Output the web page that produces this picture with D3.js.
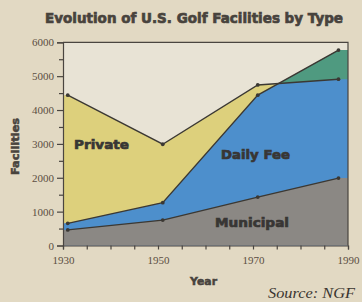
<!DOCTYPE html>
<html lang="en">
<head>
  <meta charset="UTF-8">
  <title>Evolution of U.S. Golf Facilities by Type</title>
  <script src="https://d3js.org/d3.v7.min.js"></script>
  <style>
    html, body { margin: 0; padding: 0; background: #e2d9c3; }
    svg { display: block; }
  </style>
</head>
<body>
  <svg width="362" height="302"></svg>
  <script>
    // data (cumulative edges of the bands)
    const years = [1931, 1951, 1971, 1988];
    const municipal = [460, 750, 1430, 1990];
    const dailyFeeTop = [655, 1265, 4440, 5770];
    const privateTop = [4440, 2990, 4740, 4910];

    const yMajor = [0, 1000, 2000, 3000, 4000, 5000, 6000];
    const yMinor = [500, 1500, 2500, 3500, 4500, 5500];
    const xMajor = [1930, 1950, 1970, 1990];
    const xMinor = [1935, 1940, 1945, 1955, 1960, 1965, 1975, 1980, 1985];

    const svg = d3.select("svg");
    const x = d3.scaleLinear().domain([1930, 1990]).range([63, 348]);
    const y = d3.scaleLinear().domain([0, 6000]).range([245.5, 42.3]);

    const ink = "#3b3833";
    const labelInk = "#5b4e42";

    // fills run flat from the end points out to the plot edges
    function extend(vals) {
      const pts = years.map((yr, i) => ({ year: yr, v: vals[i] }));
      return [{ year: 1930, v: vals[0] }, ...pts, { year: 1990, v: vals[vals.length - 1] }];
    }
    const rows = extend(municipal).map((d, i) => ({
      year: d.year,
      muni: d.v,
      daily: extend(dailyFeeTop)[i].v,
      priv: extend(privateTop)[i].v
    }));

    svg.append("rect")
      .attr("x", x(1930)).attr("y", y(6000))
      .attr("width", x(1990) - x(1930)).attr("height", y(0) - y(6000))
      .attr("fill", "#e8e3d5");

    svg.append("defs").append("clipPath").attr("id", "abovePrivate")
      .append("path")
      .attr("d", d3.area().x(d => x(d.year)).y0(y(6000)).y1(d => y(d.priv))(rows));

    svg.append("path")
      .attr("fill", "#ddd07c")
      .attr("d", d3.area().x(d => x(d.year)).y0(d => y(d.daily)).y1(d => y(d.priv))(rows));

    svg.append("path")
      .attr("fill", "#4d8fcc")
      .attr("d", d3.area().x(d => x(d.year)).y0(y(0)).y1(d => y(d.daily))(rows));

    svg.append("path")
      .attr("fill", "#4f9a80")
      .attr("clip-path", "url(#abovePrivate)")
      .attr("d", d3.area().x(d => x(d.year)).y0(y(0)).y1(d => y(d.daily))(rows));

    svg.append("path")
      .attr("fill", "#8b8884")
      .attr("d", d3.area().x(d => x(d.year)).y0(y(0)).y1(d => y(d.muni))(rows));

    const line = d3.line().x(d => x(d[0])).y(d => y(d[1]));
    [municipal, dailyFeeTop, privateTop].forEach(vals => {
      const pts = years.map((yr, i) => [yr, vals[i]]);
      svg.append("path")
        .attr("fill", "none")
        .attr("stroke", ink)
        .attr("stroke-width", 1.4)
        .attr("d", line(pts));
      svg.append("g").selectAll("circle")
        .data(pts)
        .join("circle")
        .attr("cx", d => x(d[0]))
        .attr("cy", d => y(d[1]))
        .attr("r", 1.9)
        .attr("fill", ink);
    });

    // frame
    svg.append("path")
      .attr("fill", "none")
      .attr("stroke", "#4a4540")
      .attr("stroke-width", 1.2)
      .attr("d", `M${x(1930)},${y(6000)}H${x(1990)}V${y(0)}`);

    svg.append("g").attr("transform", `translate(${x(1930)},0)`)
      .call(d3.axisLeft(y).tickValues(yMajor).tickSize(6).tickPadding(3).tickFormat(d3.format("d")));
    svg.append("g").attr("transform", `translate(${x(1930)},0)`)
      .call(d3.axisLeft(y).tickValues(yMinor).tickSize(4).tickFormat(""))
      .select(".domain").remove();

    svg.append("g").attr("transform", `translate(0,${y(0)})`)
      .call(d3.axisBottom(x).tickValues(xMajor).tickSize(4).tickPadding(7).tickFormat(d3.format("d")));
    svg.append("g").attr("transform", `translate(0,${y(0)})`)
      .call(d3.axisBottom(x).tickValues(xMinor).tickSize(4).tickFormat(""))
      .select(".domain").remove();

    svg.selectAll(".domain").attr("stroke", "#4a4540").attr("stroke-width", 1.2);
    svg.selectAll(".tick line").attr("stroke", "#4a4540").attr("stroke-width", 1.2);
    svg.selectAll(".tick text")
      .attr("fill", labelInk)
      .attr("font-family", "'Liberation Serif', 'DejaVu Serif', serif")
      .attr("font-size", 11);

    const heavy = "'DejaVu Sans', 'Liberation Sans', sans-serif";

    function heavyText(sel, color, sw) {
      return sel.attr("font-family", heavy).attr("font-weight", "bold")
        .attr("fill", color).attr("stroke", color).attr("stroke-width", sw)
        .attr("lengthAdjust", "spacingAndGlyphs");
    }

    svg.append("text")
      .attr("x", 45).attr("y", 23)
      .attr("textLength", 298).attr("font-size", 14)
      .call(heavyText, "#48433d", 0.7)
      .text("Evolution of U.S. Golf Facilities by Type");

    svg.append("text")
      .attr("transform", "translate(19,175) rotate(-90)")
      .attr("textLength", 57).attr("font-size", 10)
      .call(heavyText, "#48433d", 0.5)
      .text("Facilities");

    svg.append("text")
      .attr("x", 190).attr("y", 285)
      .attr("textLength", 27).attr("font-size", 11)
      .call(heavyText, "#48433d", 0.5)
      .text("Year");

    svg.append("text")
      .attr("x", 268).attr("y", 298)
      .attr("textLength", 87).attr("lengthAdjust", "spacingAndGlyphs")
      .attr("font-family", "'Liberation Serif', 'DejaVu Serif', serif")
      .attr("font-style", "italic").attr("font-size", 15)
      .attr("fill", "#3a3530")
      .text("Source: NGF");

    const bandLabels = [
      { text: "Private", x: 74, y: 149, w: 55 },
      { text: "Daily Fee", x: 221, y: 159, w: 69 },
      { text: "Municipal", x: 215, y: 227, w: 74 }
    ];
    svg.append("g").selectAll("text")
      .data(bandLabels)
      .join("text")
      .attr("x", d => d.x).attr("y", d => d.y)
      .attr("textLength", d => d.w).attr("font-size", 13)
      .call(heavyText, "#383634", 0.7)
      .text(d => d.text);
  </script>
</body>
</html>
